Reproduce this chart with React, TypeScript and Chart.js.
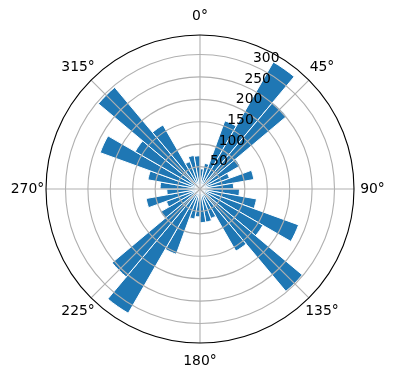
import React, { useEffect, useRef } from "react";
import { Chart, registerables } from "chart.js";

Chart.register(...registerables);

// 36 direction bins of 10° each (start angle of the bin, clockwise from north)
const binStarts = [
  0, 10, 20, 30, 40, 50, 60, 70, 80, 90, 100, 110,
  120, 130, 140, 150, 160, 170, 180, 190, 200, 210, 220, 230,
  240, 250, 260, 270, 280, 290, 300, 310, 320, 330, 340, 350,
];
const counts = [
  45, 58, 162, 327, 252, 103, 70, 122, 75, 88, 128, 234,
  162, 298, 160, 70, 75, 75, 62, 68, 155, 320, 256, 102,
  80, 122, 74, 89, 118, 237, 167, 296, 165, 65, 76, 74,
];
const radialTicks = [50, 100, 150, 200, 250, 300];
const angleTicks = [0, 45, 90, 135, 180, 225, 270, 315];
const angleTickLabels = ["0°", "45°", "90°", "135°", "180°", "225°", "270°", "315°"];
const rMax = 343.5;
const radialLabelAngle = 22.5;

const FONT = '13.9px "DejaVu Sans", sans-serif';

const overlayPlugin = {
  id: "mplPolarOverlay",
  afterDatasetsDraw(chart: any) {
    const scale = chart.scales.r;
    const ctx = chart.ctx;
    const cx = scale.xCenter;
    const cy = scale.yCenter;
    const R = scale.getDistanceFromCenterForValue(rMax);
    ctx.save();
    // radial grid circles
    ctx.strokeStyle = "#b0b0b0";
    ctx.lineWidth = 1.1;
    radialTicks.forEach((v) => {
      const r = scale.getDistanceFromCenterForValue(v);
      ctx.beginPath();
      ctx.arc(cx, cy, r, 0, Math.PI * 2);
      ctx.stroke();
    });
    // angular grid lines
    angleTicks.forEach((a) => {
      const t = (a * Math.PI) / 180;
      ctx.beginPath();
      ctx.moveTo(cx, cy);
      ctx.lineTo(cx + R * Math.sin(t), cy - R * Math.cos(t));
      ctx.stroke();
    });
    // outer spine
    ctx.strokeStyle = "#000000";
    ctx.lineWidth = 1.1;
    ctx.beginPath();
    ctx.arc(cx, cy, R, 0, Math.PI * 2);
    ctx.stroke();
    // angle labels
    ctx.fillStyle = "#000000";
    ctx.font = FONT;
    ctx.textAlign = "center";
    ctx.textBaseline = "middle";
    angleTicks.forEach((a, i) => {
      const t = (a * Math.PI) / 180;
      const d = R + 18.5;
      ctx.fillText(angleTickLabels[i], cx + d * Math.sin(t), cy - d * Math.cos(t));
    });
    // radial labels
    ctx.textAlign = "left";
    const tr = (radialLabelAngle * Math.PI) / 180;
    radialTicks.forEach((v) => {
      const r = scale.getDistanceFromCenterForValue(v);
      const px = cx + r * Math.sin(tr);
      const py = cy - r * Math.cos(tr);
      ctx.fillText(String(v), px + 1.5, py - 6.5);
    });
    ctx.restore();
  },
};

export default function App() {
  const ref = useRef<HTMLCanvasElement | null>(null);
  useEffect(() => {
    document.body.style.margin = "0";
    const canvas = ref.current;
    if (!canvas) return;
    const chart = new Chart(canvas, {
      type: "polarArea",
      data: {
        labels: binStarts.map((b) => `${b}°`),
        datasets: [
          {
            data: counts,
            backgroundColor: "#1f77b4",
            borderColor: "#ffffff",
            borderWidth: 1,
          },
        ],
      },
      options: {
        responsive: false,
        animation: false,
        events: [],
        layout: { padding: { left: 46, right: 41, top: 35, bottom: 36 } },
        plugins: {
          legend: { display: false },
          tooltip: { enabled: false },
        },
        scales: {
          r: {
            min: 0,
            max: rMax,
            startAngle: 0,
            ticks: { display: false },
            grid: { display: false },
            angleLines: { display: false },
            pointLabels: { display: false },
          },
        },
      },
      plugins: [overlayPlugin],
    });
    return () => chart.destroy();
  }, []);
  return (
    <div style={{ position: "absolute", left: 0, top: 0, width: 396, height: 380, background: "#fff" }}>
      <canvas ref={ref} width={396} height={380} style={{ display: "block" }} />
    </div>
  );
}
